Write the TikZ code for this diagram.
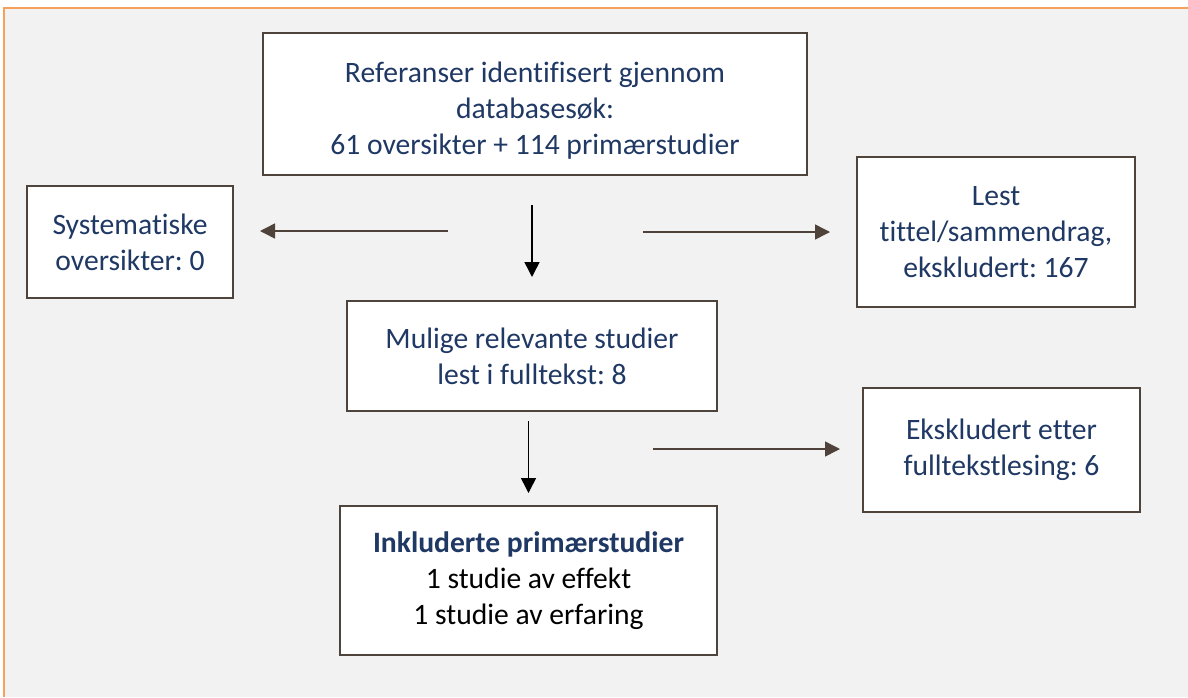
\documentclass[tikz,border=0pt]{standalone}
\usepackage{fontspec}
\setmainfont{Carlito}[Ligatures=NoCommon]
\usepackage{xcolor}
\usetikzlibrary{arrows.meta}
\frenchspacing
\definecolor{navytext}{RGB}{31,56,100}
\definecolor{boxline}{RGB}{78,68,60}
\definecolor{sidegrey}{RGB}{78,66,58}
\definecolor{framebg}{RGB}{242,242,242}
\definecolor{frameline}{RGB}{246,160,90}
\tikzset{
  stagebox/.style={draw=boxline, line width=1pt, fill=white, align=center,
    text=navytext, font=\fontsize{14.8}{18}\selectfont, inner sep=0pt},
  sidearrow/.style={draw=sidegrey, line width=0.75pt,
    -{Triangle[length=7.5pt,width=7.5pt]}},
  downarrow/.style={draw=black, line width=0.75pt,
    -{Triangle[length=7.5pt,width=7.5pt]}},
}

\begin{document}
\begin{tikzpicture}[x=0.5pt,y=-0.5pt]
  \useasboundingbox (0,0) rectangle (1188,697);
  % frame
  \fill[white] (0,0) rectangle (1188,697);
  \fill[framebg] (4,8) rectangle (1188,697);
  \draw[frameline, line width=1pt] (4,697) -- (4,8) -- (1188,8);

  % boxes
  \node[stagebox, minimum width=272pt, minimum height=71pt] (ref) at (535,104)
    {\rule{0pt}{17pt}Referanser identifisert gjennom\\databases\o k:\\61 oversikter + 114 prim\ae rstudier};
  \node[stagebox, minimum width=103pt, minimum height=56pt] (syst) at (130,242)
    {Systematiske\\oversikter: 0};
  \node[stagebox, minimum width=139pt, minimum height=75pt] (lest) at (996,232)
    {Lest\\tittel/sammendrag,\\ekskludert: 167};
  \node[stagebox, minimum width=185pt, minimum height=55pt] (mulige) at (532,356)
    {Mulige relevante studier\\lest i fulltekst: 8};
  \node[stagebox, minimum width=138.5pt, minimum height=62pt] (ekskl) at (1001.5,450)
    {Ekskludert etter\\fulltekstlesing: 6};
  \node[stagebox, text=black, minimum width=188.5pt, minimum height=74.5pt] (inkl) at (528.5,580.5)
    {\textcolor{navytext}{\textbf{Inkluderte prim\ae rstudier}}\\1 studie av effekt\\1 studie av erfaring};

  % connectors
  \coordinate (splitL) at (448,231);
  \coordinate (splitR) at (643,232);
  \coordinate (splitF) at (653,449);
  \draw[sidearrow, shorten >=13pt] (splitL) -- (splitL -| syst.east);
  \draw[sidearrow, shorten >=13pt] (splitR) -- (lest.west);
  \draw[sidearrow, shorten >=11pt] (splitF) -- (splitF -| ekskl.west);
  \draw[downarrow, shorten <=14.5pt, shorten >=11.5pt] (ref.south -| mulige.north) -- (mulige.north);
  \draw[downarrow, shorten <=4.5pt, shorten >=6pt] (mulige.south -| inkl.north) -- (inkl.north);
\end{tikzpicture}
\end{document}
